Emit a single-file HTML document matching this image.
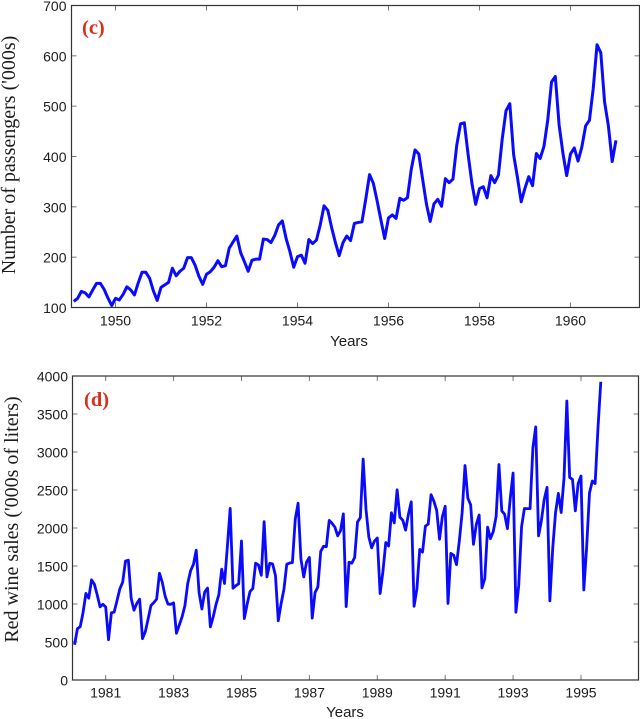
<!DOCTYPE html>
<html>
<head>
<meta charset="utf-8">
<title>Passengers and red wine sales</title>
<style>
html,body{margin:0;padding:0;background:#fff;width:640px;height:719px;overflow:hidden}
svg{display:block}
.tick-label{font-family:"Liberation Sans",Arial,sans-serif;font-size:14px;fill:#1c1c1c}
.x-title{font-family:"Liberation Sans",Arial,sans-serif;font-size:15px;fill:#1c1c1c}
.y-title{font-family:"Liberation Serif","Times New Roman",serif;font-size:20px;fill:#1c1c1c}
.panel-tag{font-family:"Liberation Serif","Times New Roman",serif;font-size:20.5px;font-weight:bold;fill:#d8301c}
</style>
</head>
<body>
<svg id="figure" width="640" height="719" viewBox="0 0 640 719" xmlns="http://www.w3.org/2000/svg">
  <g id="panel-c"></g>
  <g id="panel-d"></g>
  <text class="panel-tag" x="82" y="34">(c)</text>
  <text class="panel-tag" x="84" y="406">(d)</text>
  <text class="x-title" x="349" y="346" text-anchor="middle">Years</text>
  <text class="x-title" x="345" y="717" text-anchor="middle">Years</text>
  <text class="y-title" transform="translate(15,155) rotate(-90)" text-anchor="middle">Number of passengers ('000s)</text>
  <text class="y-title" transform="translate(18,519.5) rotate(-90)" text-anchor="middle">Red wine sales ('000s of liters)</text>
</svg>
<script>
var passengerStartYear = 1949;
var passengerValues = [
112,118,132,129,121,135,148,148,136,119,104,118,
115,126,141,135,125,149,170,170,158,133,114,140,
145,150,178,163,172,178,199,199,184,162,146,166,
171,180,193,181,183,218,230,242,209,191,172,194,
196,196,236,235,229,243,264,272,237,211,180,201,
204,188,235,227,234,264,302,293,259,229,203,229,
242,233,267,269,270,315,364,347,312,274,237,278,
284,277,317,313,318,374,413,405,355,306,271,306,
315,301,356,348,355,422,465,467,404,347,305,336,
340,318,362,348,363,435,491,505,404,359,310,337,
360,342,406,396,420,472,548,559,463,407,362,405,
417,391,419,461,472,535,622,606,508,461,390,432];
var passengerXTicks = [1950,1952,1954,1956,1958,1960];
var passengerYTicks = [100,200,300,400,500,600,700];

var wineStartYear = 1980;
var wineValues = [
464,675,703,887,1139,1077,1318,1260,1120,963,996,960,
530,883,894,1045,1199,1287,1565,1577,1076,918,1008,1063,
544,635,804,980,1018,1064,1404,1286,1104,999,996,1015,
615,722,832,977,1270,1437,1520,1708,1151,934,1159,1209,
699,830,996,1124,1458,1270,1753,2258,1208,1241,1265,1828,
809,997,1164,1205,1538,1513,1378,2083,1357,1536,1526,1376,
779,1005,1193,1522,1539,1546,2116,2326,1596,1356,1553,1613,
814,1150,1225,1691,1759,1754,2100,2062,2012,1897,1964,2186,
966,1549,1538,1612,2078,2137,2907,2249,1883,1739,1828,1868,
1138,1430,1809,1763,2200,2067,2503,2141,2103,1972,2181,2344,
970,1199,1718,1683,2025,2051,2439,2353,2230,1852,2147,2286,
1007,1665,1642,1518,1831,2207,2822,2393,2306,1785,2047,2171,
1212,1335,2011,1860,1954,2152,2835,2224,2182,1992,2389,2724,
891,1247,2017,2257,2255,2255,3057,3330,1896,2096,2374,2535,
1041,1728,2201,2455,2204,2660,3670,2665,2639,2226,2586,2684,
1185,1749,2459,2618,2585,3310,3923];
var wineXTicks = [1981,1983,1985,1987,1989,1991,1993,1995];
var wineYTicks = [0,500,1000,1500,2000,2500,3000,3500,4000];

var SVG_NS = 'http://www.w3.org/2000/svg';

function makeScale(d0, d1, r0, r1) {
  return function (v) { return r0 + (v - d0) * (r1 - r0) / (d1 - d0); };
}

function drawPanel(group, opts) {
  var x = makeScale(opts.xDomain[0], opts.xDomain[1], opts.left, opts.right);
  var y = makeScale(opts.yDomain[0], opts.yDomain[1], opts.bottom, opts.top);

  opts.xTicks.forEach(function (t) {
    var px = x(t);
    [[opts.bottom, opts.bottom - 5], [opts.top, opts.top + 5]].forEach(function (p) {
      var tick = document.createElementNS(SVG_NS, 'line');
      
      
      tick.setAttribute('x1', px); tick.setAttribute('x2', px);
      tick.setAttribute('y1', p[0]); tick.setAttribute('y2', p[1]);
      tick.setAttribute('stroke', '#777'); tick.setAttribute('stroke-width', '1');
      group.appendChild(tick);
    });
    var label = document.createElementNS(SVG_NS, 'text');
    
    
    label.setAttribute('class', 'tick-label');
    label.setAttribute('x', px);
    label.setAttribute('y', opts.xLabelY);
    label.setAttribute('text-anchor', 'middle');
    label.textContent = t;
    group.appendChild(label);
  });

  opts.yTicks.forEach(function (t) {
    var py = y(t);
    [[opts.left, opts.left + 5], [opts.right, opts.right - 5]].forEach(function (p) {
      var tick = document.createElementNS(SVG_NS, 'line');
      
      
      tick.setAttribute('x1', p[0]); tick.setAttribute('x2', p[1]);
      tick.setAttribute('y1', py); tick.setAttribute('y2', py);
      tick.setAttribute('stroke', '#777'); tick.setAttribute('stroke-width', '1');
      group.appendChild(tick);
    });
    var label = document.createElementNS(SVG_NS, 'text');
    
    
    label.setAttribute('class', 'tick-label');
    label.setAttribute('x', opts.yLabelX);
    label.setAttribute('y', py + 5.5);
    label.setAttribute('text-anchor', 'end');
    label.textContent = t;
    group.appendChild(label);
  });

  var frame = document.createElementNS(SVG_NS, 'rect');
  
  
  frame.setAttribute('x', opts.left);
  frame.setAttribute('y', opts.top);
  frame.setAttribute('width', opts.right - opts.left);
  frame.setAttribute('height', opts.bottom - opts.top);
  frame.setAttribute('fill', 'none');
  frame.setAttribute('stroke', '#333');
  frame.setAttribute('stroke-width', '1.2');
  group.appendChild(frame);

  var points = opts.values.map(function (v, i) {
    return x(opts.startYear + (i + 1) / 12).toFixed(2) + ',' + y(v).toFixed(2);
  }).join(' ');
  var series = document.createElementNS(SVG_NS, 'polyline');
  
  
  series.setAttribute('points', points);
  series.setAttribute('fill', 'none');
  series.setAttribute('stroke', '#0a0aff');
  series.setAttribute('stroke-width', opts.lineWidth);
  series.setAttribute('stroke-linejoin', 'round');
  group.appendChild(series);
}

drawPanel(document.getElementById('panel-c'), {
  left: 71.5, right: 639.5, top: 5.5, bottom: 307.5,
  xDomain: [1949.033, 1961.517], yDomain: [100, 700],
  xTicks: passengerXTicks, yTicks: passengerYTicks,
  values: passengerValues, startYear: passengerStartYear,
  xLabelY: 325.5, yLabelX: 66.5, lineWidth: 3
});

drawPanel(document.getElementById('panel-d'), {
  left: 72.5, right: 638.5, top: 376, bottom: 680,
  xDomain: [1980.022, 1996.694], yDomain: [0, 4000],
  xTicks: wineXTicks, yTicks: wineYTicks,
  values: wineValues, startYear: wineStartYear,
  xLabelY: 697.5, yLabelX: 68, lineWidth: 2.8
});
</script>
</body>
</html>
